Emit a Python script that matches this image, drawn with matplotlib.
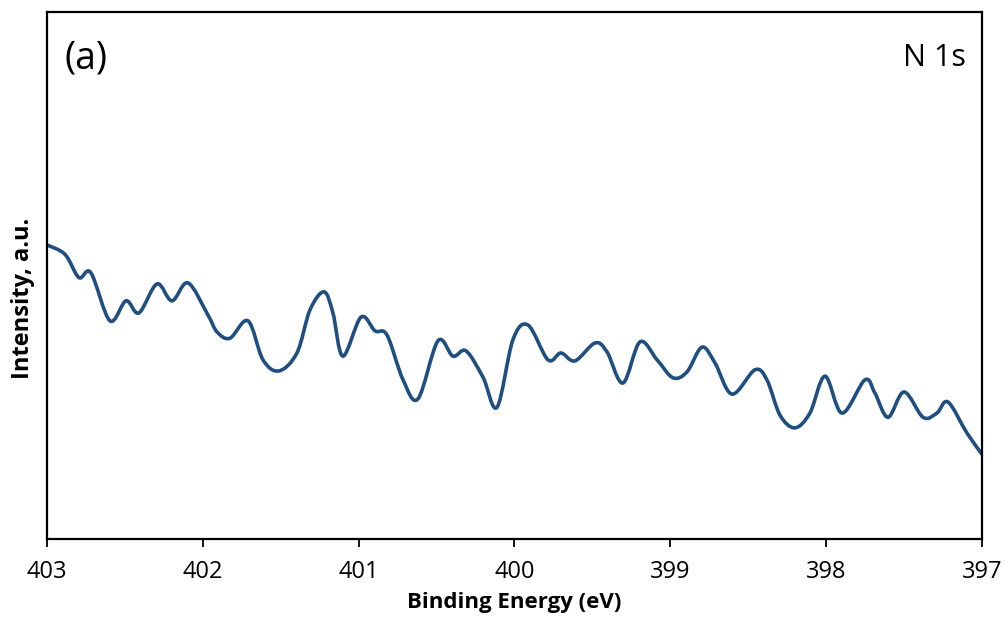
import matplotlib.pyplot as plt
import numpy as np
from matplotlib.path import Path
from matplotlib.patches import PathPatch

# N 1s XPS spectrum: binding energy (eV) and intensity (a.u.)
binding_energy = [403.000, 402.884, 402.795, 402.718, 402.596, 402.493, 402.410, 402.294,
                  402.198, 402.095, 401.967, 401.909, 401.826, 401.710, 401.614, 401.511,
                  401.396, 401.312, 401.222, 401.165, 401.101, 400.985, 400.895, 400.818,
                  400.715, 400.619, 400.491, 400.395, 400.311, 400.202, 400.112, 400.010,
                  399.913, 399.785, 399.702, 399.612, 399.483, 399.406, 399.304, 399.195,
                  399.085, 398.983, 398.893, 398.797, 398.713, 398.604, 398.457, 398.380,
                  398.296, 398.200, 398.104, 398.007, 397.898, 397.751, 397.687, 397.603,
                  397.500, 397.378, 397.289, 397.218, 397.096, 397.000]
intensity = [55.8, 54.0, 49.6, 50.5, 41.4, 45.2, 42.9, 48.4,
             45.2, 48.6, 42.5, 39.3, 38.1, 41.4, 34.0, 31.9,
             35.3, 43.5, 46.9, 42.9, 34.7, 42.1, 39.5, 38.7,
             30.2, 26.6, 37.6, 34.7, 35.7, 30.7, 25.0, 37.8,
             40.6, 34.0, 35.3, 33.8, 37.2, 35.5, 29.6, 37.4,
             34.0, 30.6, 31.7, 36.4, 33.4, 27.5, 32.1, 30.2,
             23.5, 21.1, 23.9, 30.9, 23.9, 30.2, 27.7, 23.1,
             27.9, 23.1, 23.9, 26.0, 20.1, 16.1]

x_ticks = [403, 402, 401, 400, 399, 398, 397]

plt.rcParams['font.family'] = ['Open Sans', 'DejaVu Sans']


def smooth_path(xs, ys, tension=1 / 6):
    """Catmull-Rom style smoothed line as cubic Bezier segments (like a spreadsheet 'smoothed line')."""
    pts = np.column_stack([xs, ys])
    verts = [pts[0]]
    codes = [Path.MOVETO]
    n = len(pts)
    for i in range(n - 1):
        p0 = pts[max(i - 1, 0)]
        p1 = pts[i]
        p2 = pts[i + 1]
        p3 = pts[min(i + 2, n - 1)]
        c1 = p1 + (p2 - p0) * tension
        c2 = p2 - (p3 - p1) * tension
        verts += [c1, c2, p2]
        codes += [Path.CURVE4] * 3
    return Path(verts, codes)


fig = plt.figure(figsize=(10.06, 6.30), dpi=100)
ax = fig.add_axes([0.0467, 0.1444, 0.9294, 0.8366])

ax.add_patch(PathPatch(smooth_path(binding_energy, intensity), facecolor='none',
                       edgecolor='#1f4e80', linewidth=2.6, capstyle='round',
                       joinstyle='round'))

ax.set_xlim(403, 397)
ax.set_ylim(0, 100)
ax.set_xticks(x_ticks)
ax.set_xticklabels([str(t) for t in x_ticks], fontsize=17)
ax.set_yticks([])
ax.tick_params(axis='x', direction='out', length=6, width=1.3, pad=9)

for sp in ax.spines.values():
    sp.set_linewidth(1.6)

ax.set_xlabel('Binding Energy (eV)', fontsize=16, fontweight='bold', labelpad=6)
ax.set_ylabel('Intensity, a.u.', fontsize=17, fontweight='bold')
ax.yaxis.set_label_coords(-0.013, 0.457)

ax.text(0.019, 0.912, '(a)', transform=ax.transAxes, fontsize=27, va='center', ha='left')
ax.text(0.983, 0.912, 'N 1s', transform=ax.transAxes, fontsize=22, va='center', ha='right')

plt.savefig('out.png', dpi=100)
